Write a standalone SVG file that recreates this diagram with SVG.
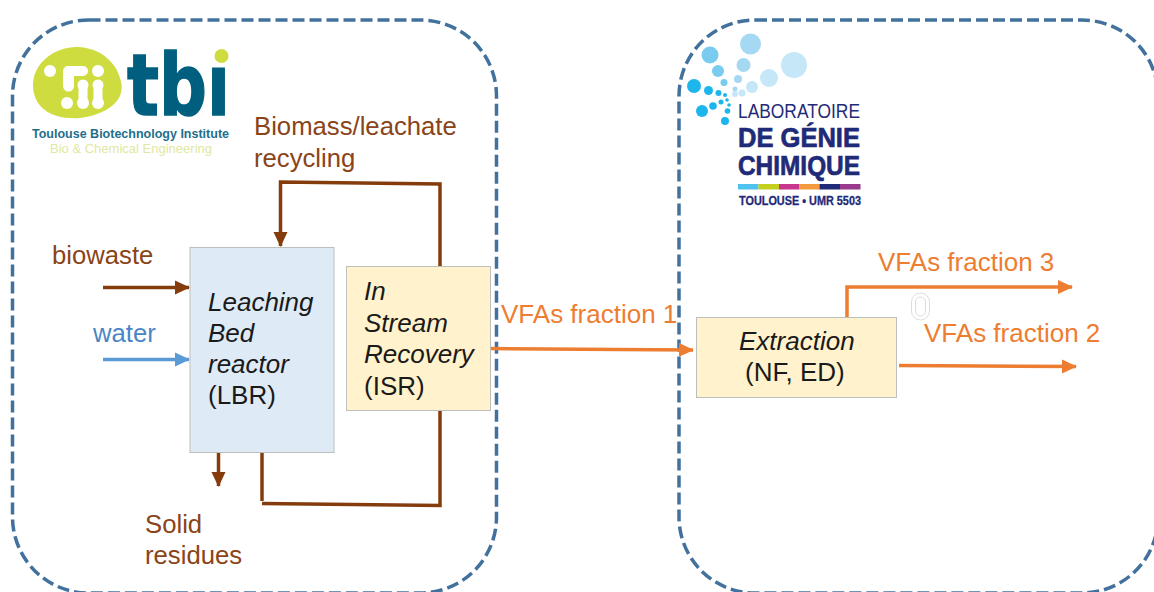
<svg xmlns="http://www.w3.org/2000/svg" width="1154" height="592" viewBox="0 0 1154 592">
<style>
text{font-family:"Liberation Sans",Arial,sans-serif;font-size:26px}
.panel{fill:none;stroke:#41719c;stroke-width:3.5;stroke-dasharray:12 5}
.box{stroke:#bcc0bc;stroke-width:1}
.br{fill:#8a4418;font-size:25.700px}.bl{fill:#4a86c5;font-size:25.700px}.or{fill:#ed7d31}.blk{fill:#1a1a1a}
.cb{fill:none;stroke:#843c0c;stroke-width:3.500}
.co{fill:none;stroke:#ed7d31;stroke-width:3.5}
.cl{fill:none;stroke:#5b9bd5;stroke-width:3.500}
.i{font-style:italic}
.lg{fill:#cfdc3f}.wh{fill:#fff}.tl{fill:#005f7f;stroke:#005f7f;stroke-width:1.500;font-family:"DejaVu Sans",sans-serif;font-weight:700}
.lb{fill:#1f2a78}.lbb{fill:#1f2a78;font-weight:700;stroke:#1f2a78;stroke-width:.7}
</style>
<defs>
<marker id="ab" markerUnits="userSpaceOnUse" markerWidth="15" markerHeight="15" refX="14" refY="7.500" orient="auto"><path d="M0 0.500L15 7.500L0 14.500z" fill="#843c0c"/></marker>
<marker id="ao" markerUnits="userSpaceOnUse" markerWidth="15" markerHeight="15" refX="14" refY="7.500" orient="auto"><path d="M0 0.500L15 7.500L0 14.500z" fill="#ed7d31"/></marker>
<marker id="al" markerUnits="userSpaceOnUse" markerWidth="15" markerHeight="15" refX="14" refY="7.500" orient="auto"><path d="M0 0.500L15 7.500L0 14.500z" fill="#5b9bd5"/></marker>
</defs>
<rect width="1154" height="592" fill="#fff"/>
<g id="panel-left"><rect class="panel" x="12.500" y="20" width="484" height="573" rx="76"/></g>
<g id="panel-right"><rect class="panel" x="679" y="20" width="479" height="573" rx="76"/></g>

<g id="logo-tbi">
<path class="lg" d="M33 83C35 60 58 46 78 47C100 48 118 62 121.500 84C124 103 104 115 80 118C52 120 32 108 33 83Z"/>
<g class="wh">
<circle cx="50" cy="71" r="6"/>
<path d="M63 71a5 5 0 0 1 5-5H83a5 5 0 0 1 0 10H74V86a5 5 0 0 1-11 0Z"/>
<circle cx="98" cy="71" r="6"/>
<rect x="78.500" y="81" width="9" height="23" rx="4.500"/>
<rect x="93.500" y="81" width="9" height="23" rx="4.500"/>
<circle cx="83" cy="85" r="5.500"/><circle cx="98" cy="85" r="5.500"/>
<circle cx="67" cy="103" r="6"/><circle cx="83" cy="103" r="6"/><circle cx="98" cy="103" r="6"/>
</g>
<text class="tl" x="127" y="115" style="font-size:85px" textLength="103" lengthAdjust="spacingAndGlyphs">tbi</text>
<rect x="205" y="40" width="30" height="24" fill="#fff"/>
<circle class="lg" cx="221.500" cy="56" r="7"/>
<text x="32" y="138" style="font-size:13.500px;font-weight:700;fill:#1f6f8b" textLength="197" lengthAdjust="spacingAndGlyphs">Toulouse Biotechnology Institute</text>
<text x="50" y="153" style="font-size:13.500px;fill:#dfe8a0" textLength="162" lengthAdjust="spacingAndGlyphs">Bio &amp; Chemical Engineering</text>
</g>

<g id="logo-lgc">
<circle cx="750.500" cy="44" r="10.500" fill="#a5d8f3"/>
<circle cx="794" cy="65" r="13" fill="#c5e7f8"/>
<circle cx="710" cy="55" r="8.500" fill="#79cbf0"/>
<circle cx="743.500" cy="65" r="7" fill="#a5d8f3"/>
<circle cx="769" cy="78" r="9" fill="#c5e7f8"/>
<circle cx="718" cy="71" r="6" fill="#79cbf0"/>
<circle cx="738" cy="79" r="4" fill="#a5d8f3"/>
<circle cx="752" cy="87" r="6" fill="#c5e7f8"/>
<circle cx="724" cy="82.500" r="3.500" fill="#79cbf0"/>
<circle cx="735" cy="89" r="2.500" fill="#a5d8f3"/>
<circle cx="742" cy="93" r="3.500" fill="#c5e7f8"/>
<circle cx="735" cy="94" r="3" fill="#c5e7f8"/>
<circle cx="694" cy="86" r="7" fill="#1db6ec"/>
<circle cx="708.500" cy="90.500" r="4.500" fill="#1db6ec"/>
<circle cx="718.500" cy="93" r="3" fill="#1db6ec"/>
<circle cx="725" cy="95" r="2" fill="#1db6ec"/>
<circle cx="702" cy="111" r="6" fill="#1db6ec"/>
<circle cx="713" cy="106" r="3.800" fill="#1db6ec"/>
<circle cx="721" cy="102" r="2.500" fill="#1db6ec"/>
<circle cx="727" cy="100" r="1.800" fill="#1db6ec"/>
<circle cx="725" cy="121" r="4" fill="#1db6ec"/>
<circle cx="727.500" cy="111" r="2.800" fill="#1db6ec"/>
<circle cx="729" cy="105" r="1.800" fill="#1db6ec"/>
<text class="lb" x="738" y="118" style="font-size:20px" textLength="122" lengthAdjust="spacingAndGlyphs">LABORATOIRE</text>
<text class="lbb" x="738" y="147" style="font-size:28px" textLength="122" lengthAdjust="spacingAndGlyphs">DE GÉNIE</text>
<text class="lbb" x="738" y="175" style="font-size:28px" textLength="122" lengthAdjust="spacingAndGlyphs">CHIMIQUE</text>
<rect x="738" y="184" width="20.500" height="5.500" fill="#4fc3ee"/>
<rect x="758.500" y="184" width="20.500" height="5.500" fill="#c4cf1e"/>
<rect x="779" y="184" width="20.500" height="5.500" fill="#c8378d"/>
<rect x="799.500" y="184" width="20" height="5.500" fill="#f49a3c"/>
<rect x="819.500" y="184" width="20.500" height="5.500" fill="#1f2a78"/>
<rect x="840" y="184" width="20.500" height="5.500" fill="#9a3a8c"/>
<text class="lbb" x="739" y="205" style="font-size:12.500px;stroke-width:.3" textLength="122" lengthAdjust="spacingAndGlyphs">TOULOUSE • UMR 5503</text>
</g>

<g id="connectors">
<path class="cb" d="M103 287.500H189" marker-end="url(#ab)"/>
<path class="cl" d="M103 359.500H189" marker-end="url(#al)"/>
<path class="cb" d="M440 266V184L280.500 182V246" marker-end="url(#ab)"/>
<path class="cb" d="M218.500 453V486" marker-end="url(#ab)"/>
<path class="cb" d="M262 453V501"/>
<path class="cb" d="M262 503.500L440 505.500V411"/>
<path class="co" d="M491 348.500L693 350" marker-end="url(#ao)"/>
<path class="co" d="M847 317V287H1072" marker-end="url(#ao)"/>
<path class="co" d="M899 365.500L1076 366.500" marker-end="url(#ao)"/>
</g>

<g id="node-lbr">
<rect class="box" x="190" y="247.500" width="144" height="205" fill="#deeaf6"/>
<text class="blk i" x="208" y="311">Leaching</text>
<text class="blk i" x="208" y="342">Bed</text>
<text class="blk i" x="208" y="373">reactor</text>
<text class="blk" x="208" y="404">(LBR)</text>
</g>
<g id="node-isr">
<rect class="box" x="346.500" y="266.500" width="144" height="144" fill="#fff2cc"/>
<text class="blk i" x="364" y="299.500">In</text>
<text class="blk i" x="364" y="331.500">Stream</text>
<text class="blk i" x="364" y="362.500">Recovery</text>
<text class="blk" x="364" y="394.500">(ISR)</text>
</g>
<g id="node-extraction">
<rect class="box" x="696.500" y="317.500" width="200" height="80" fill="#fff2cc"/>
<text class="blk i" x="739" y="350">Extraction</text>
<text class="blk" x="745" y="381">(NF, ED)</text>
</g>

<g id="labels">
<text class="br" x="254" y="135">Biomass/leachate</text>
<text class="br" x="254" y="167">recycling</text>
<text class="br" x="52" y="264">biowaste</text>
<text class="bl" x="93" y="342">water</text>
<text class="br" x="145" y="533">Solid</text>
<text class="br" x="145" y="564">residues</text>
<text class="or" x="501" y="323">VFAs fraction 1</text>
<text class="or" x="878" y="271">VFAs fraction 3</text>
<text class="or" x="924" y="342">VFAs fraction 2</text>
</g>
<g id="mark"><rect x="911.500" y="293" width="18" height="27" rx="9" fill="#fff" stroke="#ddd" stroke-width="1"/><rect x="915.500" y="297" width="10" height="19" rx="5" fill="#fff" stroke="#ddd" stroke-width="1"/></g>
</svg>
